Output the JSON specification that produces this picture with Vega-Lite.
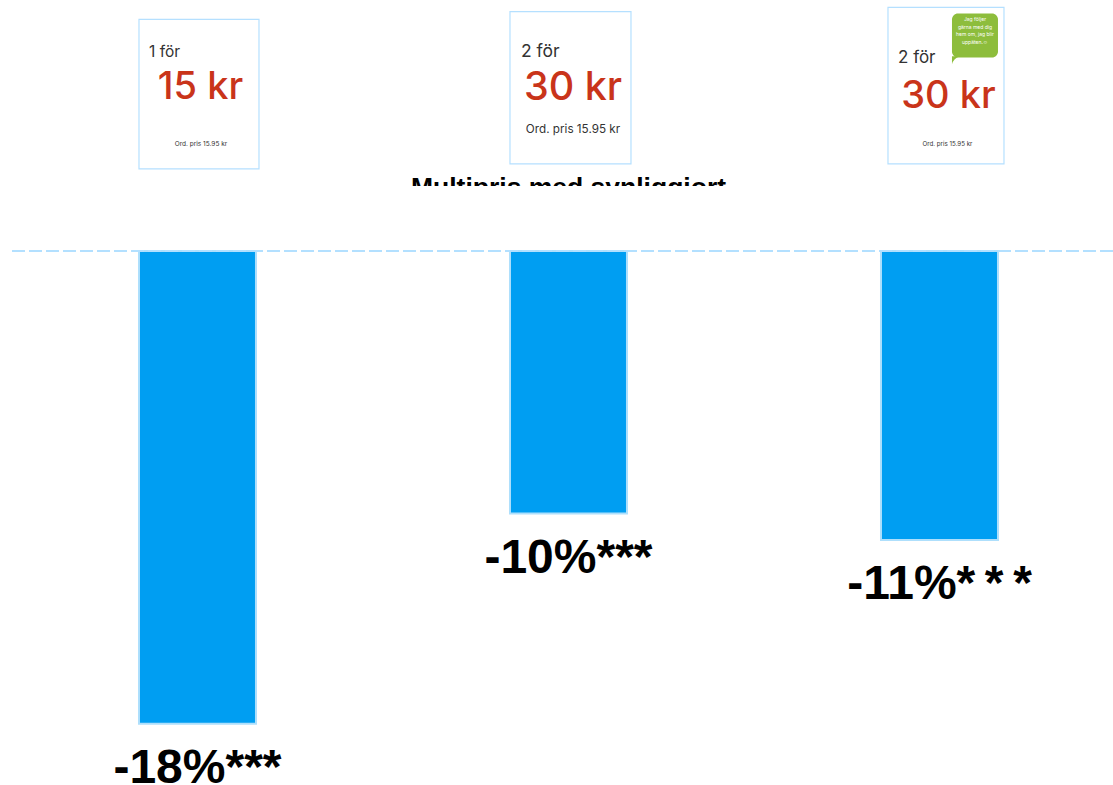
{
  "$schema": "https://vega.github.io/schema/vega-lite/v6.json",
  "width": 1113,
  "height": 785,
  "autosize": {"type": "none"},
  "padding": 0,
  "background": "#ffffff",
  "config": {"view": {"stroke": null}},
  "data": {
    "values": [
      {"offer": "Styckpris", "effect": -18, "label": "-18%***", "count": "1 för", "price": "15 kr", "ordinary": "Ord. pris 15.95 kr"},
      {"offer": "Multipris", "effect": -10, "label": "-10%***", "count": "2 för", "price": "30 kr", "ordinary": "Ord. pris 15.95 kr", "heading": "Multipris med synliggjort"},
      {"offer": "Multipris synlig", "effect": -11, "label": "-11%*\u2009*\u2009*", "count": "2 för", "price": "30 kr", "ordinary": "Ord. pris 15.95 kr", "bubble": "Jag följer\ngärna med dig\nhem om, jag blir\nuppäten.☺"}
    ]
  },
  "encoding": {
    "x": {
      "field": "offer",
      "type": "ordinal",
      "axis": null,
      "sort": null,
      "scale": {"type": "point", "domain": ["Styckpris", "Multipris", "Multipris synlig"], "padding": 0.5, "align": 0.5323}
    }
  },
  "layer": [
    {
      "mark": {"type": "bar", "size": 117, "fill": "#009EF2", "stroke": "#AEDFFC", "strokeWidth": 2},
      "encoding": {
        "y": {"field": "effect", "type": "quantitative", "axis": null, "scale": {"domain": [-20.33, 9.551], "nice": false, "zero": false}}
      }
    },
    {
      "mark": {"type": "text", "font": "Liberation Sans", "fontWeight": "bold", "fontSize": 48, "align": "center", "baseline": "alphabetic", "dy": 59, "color": "#000000"},
      "encoding": {
        "y": {"field": "effect", "type": "quantitative"},
        "text": {"field": "label"}
      }
    },
    {
      "mark": {"type": "rule", "stroke": "#B3E0FF", "strokeWidth": 2, "strokeDash": [13, 4]},
      "encoding": {"x": {"value": 12}, "x2": {"value": 1113}, "y": {"datum": 0}}
    },
    {
      "transform": [{"filter": "datum.offer === 'Styckpris'"}],
      "layer": [
        {"mark": {"type": "rect", "width": 120, "xOffset": 1.5, "fill": "#ffffff", "stroke": "#B5E0FF", "strokeWidth": 1.2}, "encoding": {"y": {"datum": 8.81}, "y2": {"datum": 3.12}}},
        {"mark": {"type": "text", "font": "Inter", "fontSize": 15.5, "align": "left", "baseline": "alphabetic", "dx": -48.5, "color": "#333333"}, "encoding": {"y": {"datum": 7.38}, "text": {"field": "count"}}},
        {"mark": {"type": "text", "font": "Inter", "fontWeight": 500, "fontSize": 38, "align": "center", "baseline": "alphabetic", "dx": 3, "color": "#C9341A"}, "encoding": {"y": {"datum": 5.78}, "text": {"field": "price"}}},
        {"mark": {"type": "text", "font": "Inter", "fontSize": 6.5, "align": "center", "baseline": "alphabetic", "dx": 3.5, "color": "#333333"}, "encoding": {"y": {"datum": 4.0}, "text": {"field": "ordinary"}}}
      ]
    },
    {
      "transform": [{"filter": "datum.offer === 'Multipris'"}],
      "layer": [
        {"mark": {"type": "rect", "width": 121, "xOffset": 2, "fill": "#ffffff", "stroke": "#B5E0FF", "strokeWidth": 1.2}, "encoding": {"y": {"datum": 9.11}, "y2": {"datum": 3.31}}},
        {"mark": {"type": "text", "font": "Inter", "fontSize": 17.5, "align": "left", "baseline": "alphabetic", "dx": -47.5, "color": "#333333"}, "encoding": {"y": {"datum": 7.38}, "text": {"field": "count"}}},
        {"mark": {"type": "text", "font": "Inter", "fontWeight": 500, "fontSize": 39.5, "align": "center", "baseline": "alphabetic", "dx": 4.5, "color": "#C9341A"}, "encoding": {"y": {"datum": 5.75}, "text": {"field": "price"}}},
        {"mark": {"type": "text", "font": "Inter", "fontSize": 11.7, "align": "center", "baseline": "alphabetic", "dx": 4.5, "color": "#333333"}, "encoding": {"y": {"datum": 4.49}, "text": {"field": "ordinary"}}},
        {"mark": {"type": "text", "font": "Liberation Sans", "fontWeight": "bold", "fontSize": 26.5, "align": "center", "baseline": "alphabetic", "color": "#000000"}, "encoding": {"y": {"datum": 2.09}, "text": {"field": "heading"}}},
        {"mark": {"type": "rect", "width": 340, "fill": "#ffffff"}, "encoding": {"y": {"datum": 2.47}, "y2": {"datum": 1.6}}}
      ]
    },
    {
      "transform": [{"filter": "datum.offer === 'Multipris synlig'"}],
      "layer": [
        {"mark": {"type": "rect", "width": 116, "xOffset": 6.5, "fill": "#ffffff", "stroke": "#B5E0FF", "strokeWidth": 1.2}, "encoding": {"y": {"datum": 9.27}, "y2": {"datum": 3.31}}},
        {"mark": {"type": "rect", "width": 46, "xOffset": 35.5, "fill": "#8DBD3C", "cornerRadius": 6}, "encoding": {"y": {"datum": 9.04}, "y2": {"datum": 7.36}}},
        {"mark": {"type": "point", "filled": true, "opacity": 1, "fill": "#8DBD3C", "strokeWidth": 0, "size": 64, "shape": "M-1,-1.4 L1,-1.4 Q-0.6,-0.9 -1,0.6 Z", "xOffset": 16.5, "yOffset": 0}, "encoding": {"y": {"datum": 7.2}}},
        {"mark": {"type": "text", "font": "Inter", "fontSize": 5, "lineBreak": "\n", "lineHeight": 7.6, "align": "center", "baseline": "middle", "dx": 35.5, "color": "#ffffff"}, "encoding": {"y": {"datum": 8.82}, "text": {"field": "bubble"}}},
        {"mark": {"type": "text", "font": "Inter", "fontSize": 17, "align": "left", "baseline": "alphabetic", "dx": -41.5, "color": "#333333"}, "encoding": {"y": {"datum": 7.16}, "text": {"field": "count"}}},
        {"mark": {"type": "text", "font": "Inter", "fontWeight": 500, "fontSize": 38, "align": "center", "baseline": "alphabetic", "dx": 9, "color": "#C9341A"}, "encoding": {"y": {"datum": 5.44}, "text": {"field": "price"}}},
        {"mark": {"type": "text", "font": "Inter", "fontSize": 6.2, "align": "center", "baseline": "alphabetic", "dx": 8, "color": "#333333"}, "encoding": {"y": {"datum": 4.0}, "text": {"field": "ordinary"}}}
      ]
    }
  ]
}
